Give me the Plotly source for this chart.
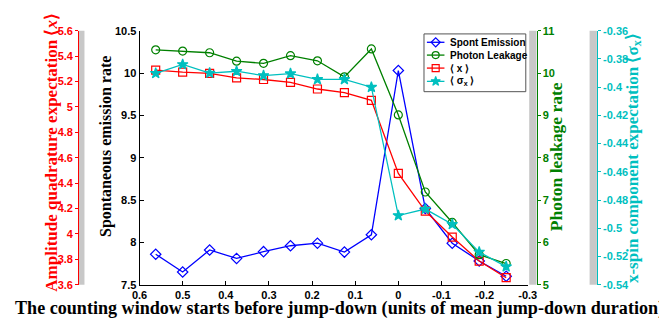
import plotly.graph_objects as go

# Window start offsets (units of mean jump-down duration)
offsets = [0.5625, 0.5, 0.4375, 0.375, 0.3125, 0.25, 0.1875, 0.125, 0.0625,
           0.0, -0.0625, -0.125, -0.1875, -0.25]

spont_emission = [7.86, 7.65, 7.91, 7.81, 7.89, 7.96, 7.99, 7.885, 8.09,
                  10.03, 8.40, 7.99, 7.78, 7.60]
photon_leakage = [10.55, 10.52, 10.48, 10.28, 10.23, 10.41, 10.29, 9.91, 10.57,
                  9.01, 7.19, 6.47, 5.71, 5.50]
x_quadrature = [5.29, 5.274, 5.264, 5.229, 5.216, 5.194, 5.141, 5.113, 5.052,
                4.476, 4.18, 3.975, 3.786, 3.655]
sigma_x = [-0.3902, -0.3839, -0.3900, -0.3887, -0.3918, -0.3904, -0.3945, -0.3945,
           -0.4000, -0.4910, -0.4864, -0.4972, -0.5169, -0.5272]

series_names = ["Spont Emission", "Photon Leakage", "⟨ x ⟩", "⟨ σ<sub>x</sub> ⟩"]

x_ticks = [0.6, 0.5, 0.4, 0.3, 0.2, 0.1, 0.0, -0.1, -0.2, -0.3]
x_tick_text = ["0.6", "0.5", "0.4", "0.3", "0.2", "0.1", "0", "-0.1", "-0.2", "-0.3"]
spont_ticks = [7.5, 8, 8.5, 9, 9.5, 10, 10.5]
spont_tick_text = ["7.5", "8", "8.5", "9", "9.5", "10", "10.5"]
x_ax_ticks = [3.6, 3.8, 4.0, 4.2, 4.4, 4.6, 4.8, 5.0, 5.2, 5.4, 5.6]
x_ax_tick_text = ["3.6", "3.8", "4", "4.2", "4.4", "4.6", "4.8", "5", "5.2", "5.4", "5.6"]
leak_ticks = [5, 6, 7, 8, 9, 10, 11]
leak_tick_text = ["5", "6", "7", "8", "9", "10", "11"]
sig_ticks = [-0.54, -0.52, -0.50, -0.48, -0.46, -0.44, -0.42, -0.40, -0.38, -0.36]
sig_tick_text = ["-0.54", "-0.52", "-0.5", "-0.48", "-0.46", "-0.44", "-0.42",
                 "-0.4", "-0.38", "-0.36"]

W, H = 659, 321
BLUE, GREEN, RED, CYAN = "#0000ff", "#008000", "#ff0000", "#00bfbf"
GRAY = "#c8c8c8"


def px(v):
    return v / W


def py(v):
    return 1 - v / H


PLOT_L, PLOT_R, PLOT_T, PLOT_B = 135, 533.5, 25.7, 289.5
tick_font = dict(family="Liberation Sans", size=11, weight="bold")
title_font = "Liberation Serif"

styles = [
    dict(color=BLUE, symbol="diamond-open", size=8, axis="y"),
    dict(color=GREEN, symbol="circle-open", size=8, axis="y3"),
    dict(color=RED, symbol="square-open", size=8, axis="y2"),
    dict(color=CYAN, symbol="star", size=8, axis="y4"),
]
series_values = [spont_emission, photon_leakage, x_quadrature, sigma_x]

fig = go.Figure()
for name, vals, st in zip(series_names, series_values, styles):
    fig.add_trace(go.Scatter(
        x=offsets, y=vals, name=name, mode="lines+markers", yaxis=st["axis"],
        showlegend=False,
        line=dict(color=st["color"], width=1.3),
        marker=dict(symbol=st["symbol"], size=st["size"], color=st["color"],
                    line=dict(width=1.2, color=st["color"]))))

# Gray strips behind the extra y axes
shapes = []
for x0, x1 in [(72, 78.5), (535, 542.5), (597, 604.5)]:
    shapes.append(dict(type="rect", xref="paper", yref="paper",
                       x0=px(x0), x1=px(x1), y0=py(PLOT_B), y1=py(PLOT_T),
                       fillcolor=GRAY, line=dict(width=0), layer="below"))

# Compact legend box in the upper right of the plot
LEG_L, LEG_R, LEG_T, LEG_B = 427, 531.5, 29, 89
leg_rows = [37.7, 51.0, 64.5, 78.3]
SAMPLE_L, SAMPLE_R, TEXT_X = 430, 448, 452
shapes.append(dict(type="rect", xref="paper", yref="paper",
                   x0=px(LEG_L), x1=px(LEG_R), y0=py(LEG_B), y1=py(LEG_T),
                   fillcolor="white", line=dict(color="#555555", width=1),
                   layer="below"))
annotations = []
for name, st, ry in zip(series_names, styles, leg_rows):
    shapes.append(dict(type="line", xref="paper", yref="paper",
                       x0=px(SAMPLE_L), x1=px(SAMPLE_R), y0=py(ry), y1=py(ry),
                       line=dict(color=st["color"], width=1.3), layer="below"))
    annotations.append(dict(text=name, xref="paper", yref="paper", x=px(TEXT_X),
                            y=py(ry), xanchor="left", yanchor="middle",
                            showarrow=False,
                            font=dict(family="Liberation Sans", size=10,
                                      weight="bold", color="black")))
    # legend sample symbol on a pixel-space overlay of the plot area
    fig.add_trace(go.Scatter(
        x=[(SAMPLE_L + SAMPLE_R) / 2], y=[ry], xaxis="x2", yaxis="y5",
        mode="markers", showlegend=False, hoverinfo="skip", cliponaxis=False,
        marker=dict(symbol=st["symbol"], size=st["size"] - 1, color=st["color"],
                    line=dict(width=1.2, color=st["color"]))))

ydom = [py(PLOT_B), py(PLOT_T)]
annotations += [
    dict(text="The counting window starts before jump-down (units of mean jump-down duration)",
         xref="paper", yref="paper", x=px(5), y=py(314), xanchor="left",
         yanchor="middle", showarrow=False,
         font=dict(family=title_font, size=18.1, weight="bold", color="black")),
    dict(text="Amplitude quadrature expectation ⟨<i>x</i>⟩", textangle=-90,
         xref="paper", yref="paper", x=px(45), y=py(151.5), xanchor="center",
         yanchor="middle", showarrow=False,
         font=dict(family=title_font, size=17, weight="bold", color=RED)),
    dict(text="Spontaneous emission rate", textangle=-90,
         xref="paper", yref="paper", x=px(100), y=py(146), xanchor="center",
         yanchor="middle", showarrow=False,
         font=dict(family=title_font, size=16, weight="bold", color="black")),
    dict(text="Photon leakage rate", textangle=-90,
         xref="paper", yref="paper", x=px(562), y=py(156.5), xanchor="center",
         yanchor="middle", showarrow=False,
         font=dict(family=title_font, size=17.5, weight="bold", color=GREEN)),
    dict(text="x-spin component expectation ⟨σ<sub>x</sub>⟩", textangle=-90,
         xref="paper", yref="paper", x=px(642), y=py(157.5), xanchor="center",
         yanchor="middle", showarrow=False,
         font=dict(family=title_font, size=17, weight="bold", color=CYAN)),
]

fig.update_layout(
    width=W, height=H, margin=dict(l=0, r=0, t=0, b=0),
    paper_bgcolor="white", plot_bgcolor="rgba(0,0,0,0)",
    shapes=shapes, annotations=annotations, showlegend=False,
    xaxis=dict(domain=[px(PLOT_L), px(PLOT_R)], range=[0.6, -0.3],
               tickvals=x_ticks, ticktext=x_tick_text, ticks="inside", ticklen=4,
               showline=True, linecolor="black", linewidth=1, showgrid=False,
               zeroline=False, tickfont=tick_font, color="black"),
    yaxis=dict(domain=ydom, range=[7.5, 10.5], tickvals=spont_ticks,
               ticktext=spont_tick_text, ticks="inside", ticklen=4,
               showline=True, linecolor="black", linewidth=1, showgrid=False,
               zeroline=False, tickfont=tick_font, color="black"),
    yaxis2=dict(domain=ydom, range=[3.6, 5.6], overlaying="y", anchor="free",
                position=px(72), side="left", tickvals=x_ax_ticks,
                ticktext=x_ax_tick_text, ticks="outside", ticklen=3,
                showline=True, linecolor=RED, linewidth=1, showgrid=False,
                zeroline=False, tickfont=dict(tick_font, color=RED), color=RED),
    yaxis3=dict(domain=ydom, range=[5, 11], overlaying="y", anchor="free",
                position=px(542.5), side="right", tickvals=leak_ticks,
                ticktext=leak_tick_text, ticks="outside", ticklen=3,
                showline=True, linecolor=GREEN, linewidth=1, showgrid=False,
                zeroline=False, tickfont=dict(tick_font, color=GREEN), color=GREEN),
    yaxis4=dict(domain=ydom, range=[-0.54, -0.36], overlaying="y", anchor="free",
                position=px(604.5), side="right", tickvals=sig_ticks,
                ticktext=sig_tick_text, ticks="outside", ticklen=3,
                showline=True, linecolor=CYAN, linewidth=1, showgrid=False,
                zeroline=False, tickfont=dict(tick_font, color=CYAN), color=CYAN),
    # pixel-space overlay of the plot area, used only for the legend symbols
    xaxis2=dict(overlaying="x", anchor="y", range=[PLOT_L, PLOT_R],
                visible=False, fixedrange=True),
    yaxis5=dict(overlaying="y", anchor="x", range=[PLOT_B, PLOT_T],
                visible=False, fixedrange=True),
)

fig.write_html("out.html")
